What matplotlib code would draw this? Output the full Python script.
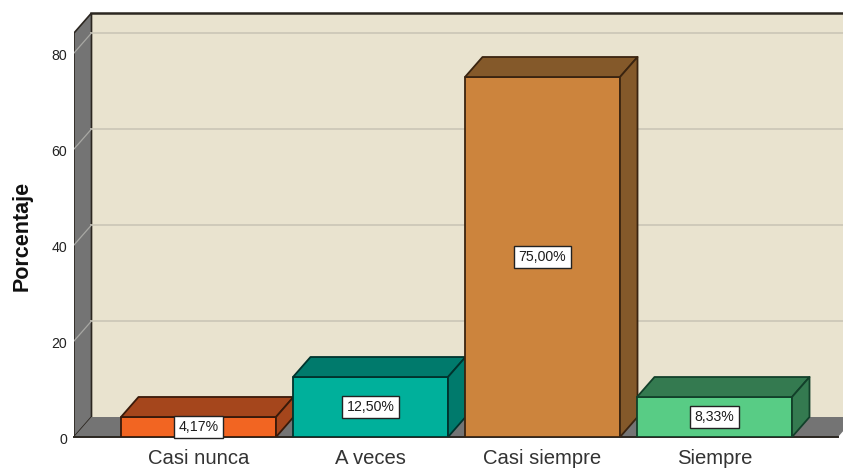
import matplotlib
matplotlib.use('Agg')
import matplotlib.pyplot as plt
from matplotlib.patches import Polygon
from matplotlib.transforms import ScaledTranslation

plt.rcParams['font.family'] = ['Liberation Sans', 'DejaVu Sans']

categorias = ['Casi nunca', 'A veces', 'Casi siempre', 'Siempre']
porcentajes = [4.17, 12.50, 75.00, 8.33]
etiquetas = ['4,17%', '12,50%', '75,00%', '8,33%']
y_ticks = [0, 20, 40, 60, 80]

col_frente = ['#f26522', '#00b09b', '#cc843d', '#58cc85']
col_lado = ['#a5461c', '#007a6c', '#84592a', '#347a50']
col_borde = ['#3a1a0a', '#00332d', '#3a2410', '#12402a']

W, H = 843, 470
X0, Y0 = 74, 437       # esquina frontal del eje, en pixeles
PX_CAT, PX_UNI = 172, 4.8
X_CAT0 = 198.5
DX, DY = 17.5 / PX_CAT, 20 / PX_UNI   # profundidad 3D
ANCHO = 155 / PX_CAT
Y_MAX = (Y0 - 13) / PX_UNI
X_MIN = (X0 - X_CAT0) / PX_CAT
X_MAX = (W - X_CAT0) / PX_CAT
X_FIN = (838 - X_CAT0) / PX_CAT

GRIS = '#747474'
FONDO = '#e9e3cf'
LINEA = '#2b2620'

fig = plt.figure(figsize=(W / 100, H / 100), dpi=100, facecolor='white')
ax = fig.add_axes([X0 / W, (H - Y0) / H, (W - X0) / W, (Y0 - 13) / H])
ax.set_xlim(X_MIN, X_MAX)
ax.set_ylim(0, Y_MAX)
for s in ax.spines.values():
    s.set_visible(False)
ax.patch.set_visible(False)

top = Y_MAX - DY
xb = X_MIN + DX

# pared del fondo, pared izquierda y piso
ax.add_patch(Polygon([(xb, DY), (X_MAX + 1, DY), (X_MAX + 1, Y_MAX), (xb, Y_MAX)],
                     fc=FONDO, ec='none', zorder=1))
ax.add_patch(Polygon([(X_MIN, 0), (xb, DY), (xb, Y_MAX), (X_MIN, top)],
                     fc=GRIS, ec=LINEA, lw=1.2, zorder=2))
ax.add_patch(Polygon([(X_MIN, 0), (X_FIN, 0), (X_FIN + DX, DY), (xb, DY)],
                     fc=GRIS, ec='none', zorder=2))

for v in y_ticks[1:]:
    ax.plot([xb, X_MAX], [v + DY, v + DY], color='#cdc8b8', lw=1.3, zorder=2)
    ax.plot([X_MIN, xb], [v, v + DY], color='#a8a8a4', lw=0.9, zorder=3)

ax.plot([xb, X_MAX], [Y_MAX, Y_MAX], color=LINEA, lw=1.8, zorder=3, clip_on=False)
ax.plot([X_MIN, X_FIN], [0, 0], color=LINEA, lw=1.4, zorder=3, clip_on=False)

for i, (v, txt) in enumerate(zip(porcentajes, etiquetas)):
    x1, x2 = i - ANCHO / 2, i + ANCHO / 2
    kw = dict(ec=col_borde[i], lw=1.3, joinstyle='round', zorder=5 + i)
    ax.add_patch(Polygon([(x1, 0), (x2, 0), (x2, v), (x1, v)], fc=col_frente[i], **kw))
    ax.add_patch(Polygon([(x1, v), (x2, v), (x2 + DX, v + DY), (x1 + DX, v + DY)], fc=col_lado[i], **kw))
    ax.add_patch(Polygon([(x2, 0), (x2 + DX, DY), (x2 + DX, v + DY), (x2, v)], fc=col_lado[i], **kw))
    ax.text(i, v / 2, txt, ha='center', va='center', fontsize=10.2, color='#1c1c1c', zorder=20,
            bbox=dict(boxstyle='square,pad=0.3', fc='white', ec='#222222', lw=1))

ax.set_xticks(range(len(categorias)))
ax.set_xticklabels(categorias, fontsize=14.6, color='#333333')
ax.set_yticks(y_ticks)
ax.set_yticklabels([str(v) for v in y_ticks], fontsize=10.2, color='#222222')
ax.tick_params(axis='both', length=0)
ax.tick_params(axis='x', pad=9)
ax.tick_params(axis='y', pad=5)

# etiquetas del eje y un poco mas abajo que la marca
baja = ScaledTranslation(0, -2 / 100, fig.dpi_scale_trans)
for lab in ax.get_yticklabels():
    lab.set_transform(lab.get_transform() + baja)

fig.text(22 / W, 1 - 236 / H, 'Porcentaje', rotation=90, ha='center', va='center',
         fontsize=15.5, fontweight='bold', color='#111111')

fig.savefig('out.png', dpi=100)
